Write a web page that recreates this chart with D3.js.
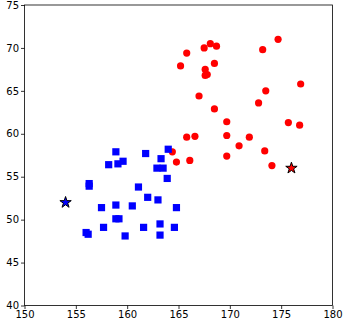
<!DOCTYPE html>
<html>
<head>
<meta charset="utf-8">
<script src="https://cdn.jsdelivr.net/npm/d3@7"></script>
<style>
  body { margin: 0; background: #fff; }
  svg { display: block; font-family: "DejaVu Sans", sans-serif; }
</style>
</head>
<body>
<svg width="343" height="324"></svg>
<script>

// red group (circles)
let redX = [165.2, 165.8, 167.5, 168.1, 168.7, 167.6, 168.5, 167.6, 167.8, 167.0,
            168.5, 169.7, 169.7, 169.7, 165.8, 166.6, 164.4, 164.8, 166.1, 170.9,
            171.9, 172.8, 173.5, 173.2, 174.7, 176.9, 175.7, 176.8, 173.4, 174.1];
let redY = [67.9, 69.4, 70.0, 70.5, 70.2, 67.5, 68.2, 66.8, 66.9, 64.4,
            62.9, 61.4, 59.8, 57.4, 59.6, 59.7, 57.9, 56.7, 56.9, 58.6,
            59.6, 63.6, 65.0, 69.8, 71.0, 65.8, 61.3, 61.0, 58.0, 56.3];

// blue group (squares)
let blueX = [158.9, 158.2, 159.1, 159.6, 161.8, 164.0, 163.3, 162.9, 163.5, 163.9,
             156.3, 156.3, 161.1, 162.0, 163.0, 164.8, 157.5, 158.9, 160.5, 158.9,
             159.2, 157.7, 161.6, 163.2, 164.6, 163.2, 159.8, 156.0, 156.2];
let blueY = [57.9, 56.4, 56.5, 56.8, 57.7, 58.2, 57.1, 56.0, 56.0, 54.8,
             54.2, 53.9, 53.8, 52.6, 52.3, 51.4, 51.4, 51.7, 51.6, 50.1,
             50.1, 49.1, 49.1, 49.5, 49.1, 48.2, 48.1, 48.5, 48.3];

// the two star points
let stars = [
    {x: 154, y: 52, color: "blue"},
    {x: 176, y: 56, color: "red"}
];

let xTicks = [150, 155, 160, 165, 170, 175, 180];
let yTicks = [40, 45, 50, 55, 60, 65, 70, 75];

let margin = {left: 24.5, right: 10.5, top: 5, bottom: 18.5};
let width = 343, height = 324;

var svg = d3.select("svg");

var x = d3.scaleLinear().domain([150, 180]).range([margin.left, width - margin.right]);
var y = d3.scaleLinear().domain([40, 75]).range([height - margin.bottom, margin.top]);

var redData = redX.map(function(v, i) { return {x: v, y: redY[i]}; });
var blueData = blueX.map(function(v, i) { return {x: v, y: blueY[i]}; });

// red circles
svg.append("g")
    .selectAll("circle")
    .data(redData)
    .enter().append("circle")
    .attr("cx", function(d) { return x(d.x); })
    .attr("cy", function(d) { return y(d.y); })
    .attr("r", 3.6)
    .attr("fill", "red");

// blue squares
var sq = 7.2;
svg.append("g")
    .selectAll("rect")
    .data(blueData)
    .enter().append("rect")
    .attr("x", function(d) { return x(d.x) - sq / 2; })
    .attr("y", function(d) { return y(d.y) - sq / 2; })
    .attr("width", sq)
    .attr("height", sq)
    .attr("fill", "blue");

// stars
svg.append("g")
    .selectAll("path")
    .data(stars)
    .enter().append("path")
    .attr("d", d3.symbol().type(d3.symbolStar).size(40))
    .attr("transform", function(d) { return "translate(" + x(d.x) + "," + y(d.y) + ")"; })
    .attr("fill", function(d) { return d.color; })
    .attr("stroke", "black")
    .attr("stroke-width", 1);

// axes
var xAxis = svg.append("g")
    .attr("transform", "translate(0," + (height - margin.bottom) + ")")
    .call(d3.axisBottom(x).tickValues(xTicks).tickSize(3.5).tickPadding(2));
var yAxis = svg.append("g")
    .attr("transform", "translate(" + margin.left + ",0)")
    .call(d3.axisLeft(y).tickValues(yTicks).tickSize(3.5).tickPadding(2));

[xAxis, yAxis].forEach(function(a) {
    a.selectAll("text").attr("font-size", 10).attr("font-family", "DejaVu Sans").attr("fill", "black");
    a.selectAll("line").attr("stroke", "black").attr("stroke-width", 0.8);
    a.select(".domain").remove();
});

// frame
svg.append("rect")
    .attr("x", margin.left)
    .attr("y", margin.top)
    .attr("width", width - margin.left - margin.right)
    .attr("height", height - margin.top - margin.bottom)
    .attr("fill", "none")
    .attr("stroke", "black")
    .attr("stroke-width", 0.8);

</script>
</body>
</html>
